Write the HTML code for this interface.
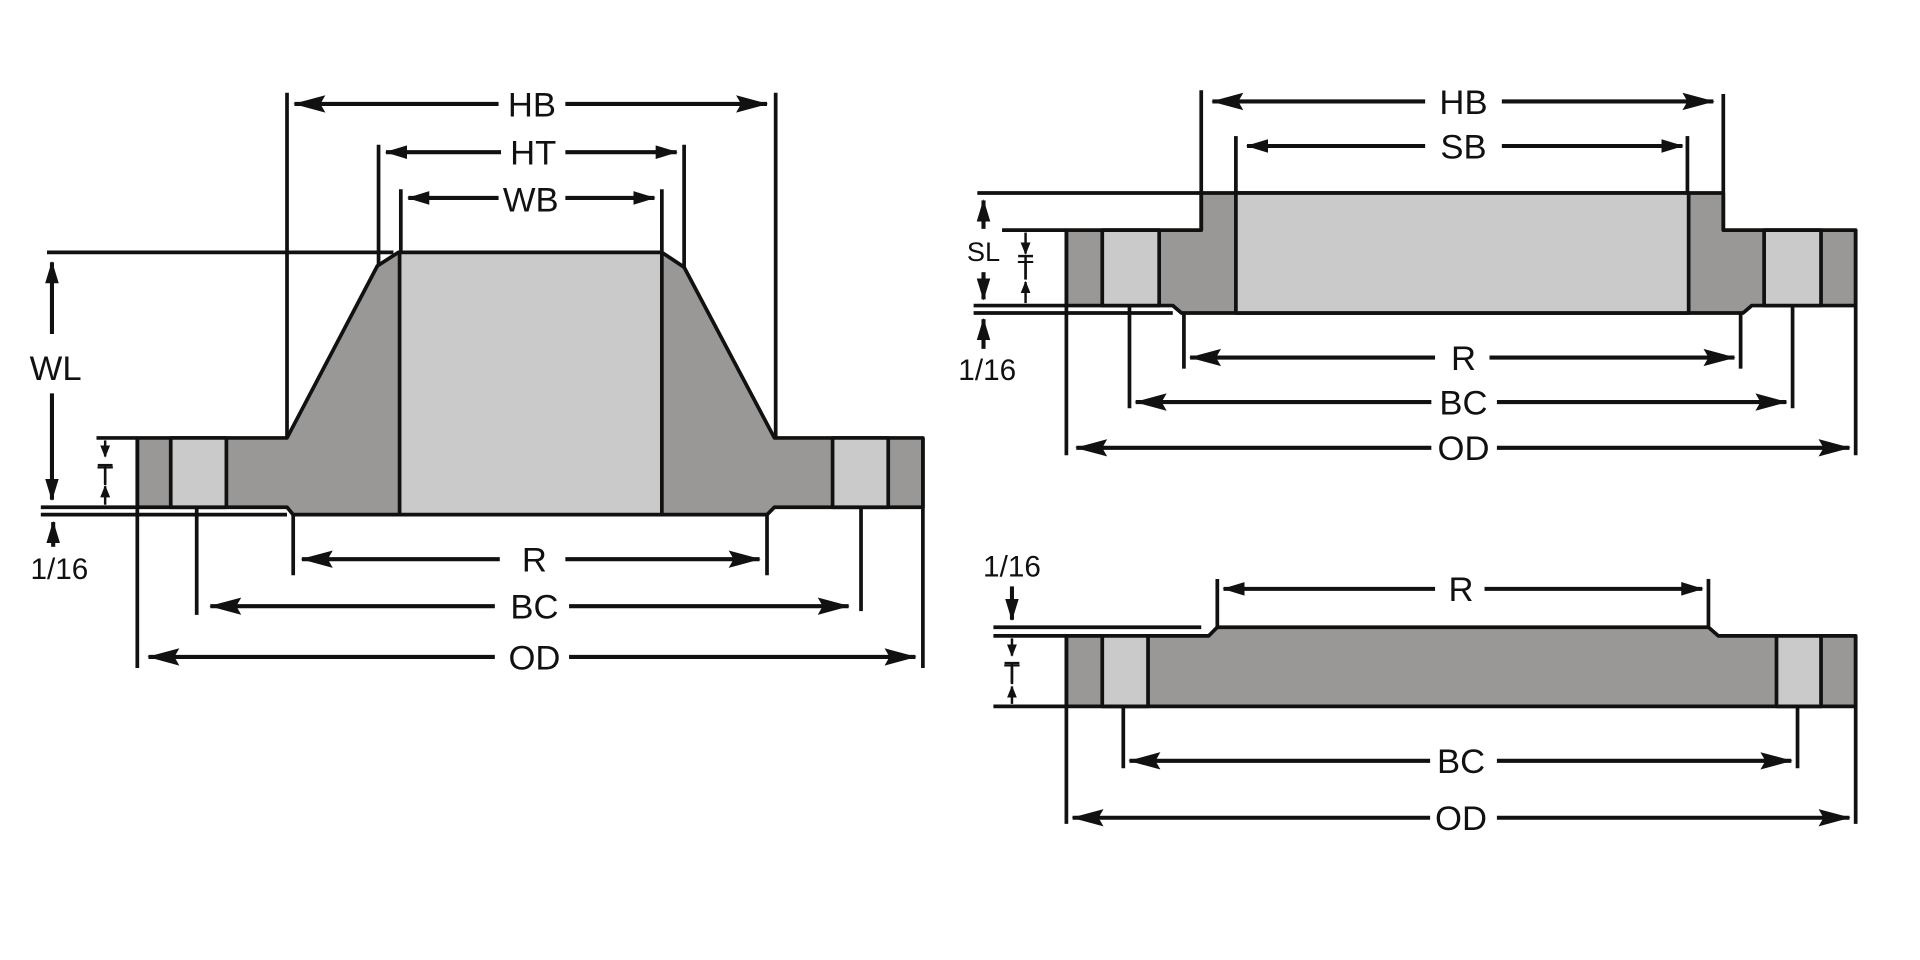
<!DOCTYPE html>
<html><head><meta charset="utf-8"><style>
html,body{margin:0;padding:0;background:#fff;}
svg{display:block;}
text{font-family:"Liberation Sans",sans-serif;font-size:28px;fill:#111;text-anchor:middle;}
.s{font-size:22px;}
</style></head><body>
<svg width="1920" height="960" viewBox="0 0 1552 776" preserveAspectRatio="none" xmlns="http://www.w3.org/2000/svg">
<defs>
<marker id="a" markerUnits="userSpaceOnUse" markerWidth="26" markerHeight="16" refX="25" refY="8" orient="auto"><path d="M0,1 L26,8 L0,15 L4,8 z" fill="#111"/></marker>
<marker id="b" markerUnits="userSpaceOnUse" markerWidth="18" markerHeight="12" refX="17" refY="6" orient="auto"><path d="M0,0.5 L18,6 L0,11.5 z" fill="#111"/></marker>
<marker id="c" markerUnits="userSpaceOnUse" markerWidth="10" markerHeight="8" refX="9" refY="4" orient="auto"><path d="M0,0 L10,4 L0,8 z" fill="#111"/></marker>
</defs>
<g stroke="#111" stroke-width="3" stroke-linejoin="round">
<!-- LEFT: weld neck -->
<path d="M111,354 L232,354 L305,215 L322,204 L535,204 L553,216 L626,354 L746,354 L746,410 L626,410 L620,416 L237,416 L232,410 L111,410 Z" fill="#9a9896"/>
<rect x="323" y="204" width="212" height="212" fill="#cacaca"/>
<rect x="138" y="354" width="45" height="56" fill="#cacaca"/>
<rect x="673" y="354" width="45" height="56" fill="#cacaca"/>
</g>
<g stroke="#111" stroke-width="3" fill="none">
<line x1="232" y1="75" x2="232" y2="354"/><line x1="627" y1="75" x2="627" y2="354"/>
<line x1="306" y1="117" x2="306" y2="215"/><line x1="553" y1="117" x2="553" y2="216"/>
<line x1="324" y1="153" x2="324" y2="204"/><line x1="535" y1="153" x2="535" y2="204"/>
<line x1="38" y1="204" x2="318" y2="204"/>
<line x1="78" y1="354" x2="111" y2="354"/>
<line x1="33" y1="410" x2="111" y2="410"/><line x1="33" y1="416" x2="232" y2="416"/>
<line x1="237" y1="416" x2="237" y2="465"/><line x1="620" y1="416" x2="620" y2="465"/>
<line x1="159" y1="410" x2="159" y2="497"/><line x1="696" y1="410" x2="696" y2="494"/>
<line x1="111" y1="354" x2="111" y2="540"/><line x1="746" y1="354" x2="746" y2="540"/>
</g>
<g stroke="#111" stroke-width="3.3" fill="none">
<line x1="403" y1="84" x2="238" y2="84" marker-end="url(#a)"/><line x1="457" y1="84" x2="620" y2="84" marker-end="url(#a)"/>
<line x1="405" y1="123" x2="312" y2="123" marker-end="url(#b)"/><line x1="457" y1="123" x2="547" y2="123" marker-end="url(#b)"/>
<line x1="403" y1="160" x2="330" y2="160" marker-end="url(#b)"/><line x1="457" y1="160" x2="529" y2="160" marker-end="url(#b)"/>
<line x1="42" y1="270" x2="42" y2="212" marker-end="url(#b)"/><line x1="42" y1="318" x2="42" y2="404" marker-end="url(#b)"/>
<line x1="43" y1="442" x2="43" y2="422" marker-end="url(#b)"/>
<line x1="404" y1="452" x2="244" y2="452" marker-end="url(#a)"/><line x1="457" y1="452" x2="614" y2="452" marker-end="url(#a)"/>
<line x1="400" y1="490" x2="170" y2="490" marker-end="url(#a)"/><line x1="460" y1="490" x2="686" y2="490" marker-end="url(#a)"/>
<line x1="400" y1="531" x2="120" y2="531" marker-end="url(#a)"/><line x1="460" y1="531" x2="740" y2="531" marker-end="url(#a)"/>
</g>
<g stroke="#111" stroke-width="2" fill="none">
<line x1="85" y1="356" x2="85" y2="369" marker-end="url(#c)"/><line x1="85" y1="408" x2="85" y2="393" marker-end="url(#c)"/>
<line x1="79" y1="376" x2="91" y2="376"/><line x1="85" y1="376" x2="85" y2="391"/>
</g>
<text x="430" y="94">HB</text><text x="431" y="133">HT</text><text x="429" y="171">WB</text>
<text x="45" y="307">WL</text><text x="48" y="468" class="s" style="font-size:24px">1/16</text>
<text x="432" y="462">R</text><text x="432" y="500">BC</text><text x="432" y="541">OD</text>

<!-- RIGHT TOP: slip-on -->
<g stroke="#111" stroke-width="3" stroke-linejoin="round">
<path d="M862,186 L971,186 L971,156 L1393,156 L1393,186 L1500,186 L1500,247 L1416,247 L1409,253 L955,253 L948,247 L862,247 Z" fill="#9a9896"/>
<rect x="999" y="156" width="366" height="97" fill="#cacaca"/>
<rect x="891" y="186" width="46" height="61" fill="#cacaca"/>
<rect x="1426" y="186" width="46" height="61" fill="#cacaca"/>
</g>
<g stroke="#111" stroke-width="3" fill="none">
<line x1="971" y1="73" x2="971" y2="186"/><line x1="1393" y1="76" x2="1393" y2="186"/>
<line x1="999" y1="110" x2="999" y2="156"/><line x1="1364" y1="110" x2="1364" y2="156"/>
<line x1="790" y1="156" x2="971" y2="156"/>
<line x1="810" y1="186" x2="862" y2="186"/>
<line x1="787" y1="247" x2="862" y2="247"/><line x1="787" y1="253" x2="948" y2="253"/>
<line x1="957" y1="253" x2="957" y2="298"/><line x1="1407" y1="253" x2="1407" y2="298"/>
<line x1="913" y1="247" x2="913" y2="330"/><line x1="1449" y1="247" x2="1449" y2="330"/>
<line x1="862" y1="186" x2="862" y2="368"/><line x1="1500" y1="186" x2="1500" y2="368"/>
</g>
<g stroke="#111" stroke-width="3.3" fill="none">
<line x1="1152" y1="82" x2="980" y2="82" marker-end="url(#a)"/><line x1="1214" y1="82" x2="1385" y2="82" marker-end="url(#a)"/>
<line x1="1152" y1="118" x2="1008" y2="118" marker-end="url(#b)"/><line x1="1214" y1="118" x2="1360" y2="118" marker-end="url(#b)"/>
<line x1="795" y1="185" x2="795" y2="162" marker-end="url(#b)"/><line x1="795" y1="220" x2="795" y2="242" marker-end="url(#b)"/>
<line x1="795" y1="282" x2="795" y2="258" marker-end="url(#b)"/>
<line x1="1160" y1="289" x2="962" y2="289" marker-end="url(#a)"/><line x1="1204" y1="289" x2="1402" y2="289" marker-end="url(#a)"/>
<line x1="1157" y1="325" x2="918" y2="325" marker-end="url(#a)"/><line x1="1210" y1="325" x2="1444" y2="325" marker-end="url(#a)"/>
<line x1="1157" y1="362" x2="870" y2="362" marker-end="url(#a)"/><line x1="1210" y1="362" x2="1495" y2="362" marker-end="url(#a)"/>
</g>
<g stroke="#111" stroke-width="2" fill="none">
<line x1="829" y1="188" x2="829" y2="205" marker-end="url(#c)"/><line x1="829" y1="245" x2="829" y2="228" marker-end="url(#c)"/>
<line x1="823" y1="207" x2="835" y2="207"/><line x1="829" y1="207" x2="829" y2="226"/>
</g>
<text x="1183" y="92">HB</text><text x="1183" y="128">SB</text>
<text x="795" y="211" class="s">SL</text><text x="798" y="307" style="font-size:24px">1/16</text>
<text x="1183" y="299">R</text><text x="1183" y="335">BC</text><text x="1183" y="372">OD</text>

<!-- RIGHT BOTTOM: blind -->
<g stroke="#111" stroke-width="3" stroke-linejoin="round">
<path d="M862,514 L977,514 L984,507 L1381,507 L1389,514 L1500,514 L1500,571 L862,571 Z" fill="#9a9896"/>
<rect x="891" y="514" width="37" height="57" fill="#cacaca"/>
<rect x="1436" y="514" width="36" height="57" fill="#cacaca"/>
</g>
<g stroke="#111" stroke-width="3" fill="none">
<line x1="803" y1="507" x2="971" y2="507"/><line x1="803" y1="514" x2="862" y2="514"/>
<line x1="803" y1="571" x2="862" y2="571"/>
<line x1="984" y1="468" x2="984" y2="507"/><line x1="1381" y1="468" x2="1381" y2="507"/>
<line x1="908" y1="571" x2="908" y2="621"/><line x1="1453" y1="571" x2="1453" y2="621"/>
<line x1="862" y1="514" x2="862" y2="666"/><line x1="1500" y1="514" x2="1500" y2="666"/>
</g>
<g stroke="#111" stroke-width="3.3" fill="none">
<line x1="818" y1="474" x2="818" y2="501" marker-end="url(#b)"/>
<line x1="1160" y1="476" x2="989" y2="476" marker-end="url(#b)"/><line x1="1200" y1="476" x2="1376" y2="476" marker-end="url(#b)"/>
<line x1="1156" y1="615" x2="913" y2="615" marker-end="url(#a)"/><line x1="1210" y1="615" x2="1448" y2="615" marker-end="url(#a)"/>
<line x1="1156" y1="661" x2="867" y2="661" marker-end="url(#a)"/><line x1="1210" y1="661" x2="1495" y2="661" marker-end="url(#a)"/>
</g>
<g stroke="#111" stroke-width="2" fill="none">
<line x1="818" y1="516" x2="818" y2="530" marker-end="url(#c)"/><line x1="818" y1="569" x2="818" y2="555" marker-end="url(#c)"/>
<line x1="812" y1="536" x2="824" y2="536"/><line x1="818" y1="536" x2="818" y2="553"/>
</g>
<text x="818" y="466" style="font-size:24px">1/16</text>
<text x="1181" y="486">R</text><text x="1181" y="625">BC</text><text x="1181" y="671">OD</text>
<text x="818" y="552" class="s">T</text><text x="829" y="226" class="s">T</text><text x="85" y="392" class="s">T</text>
</svg>
</body></html>
